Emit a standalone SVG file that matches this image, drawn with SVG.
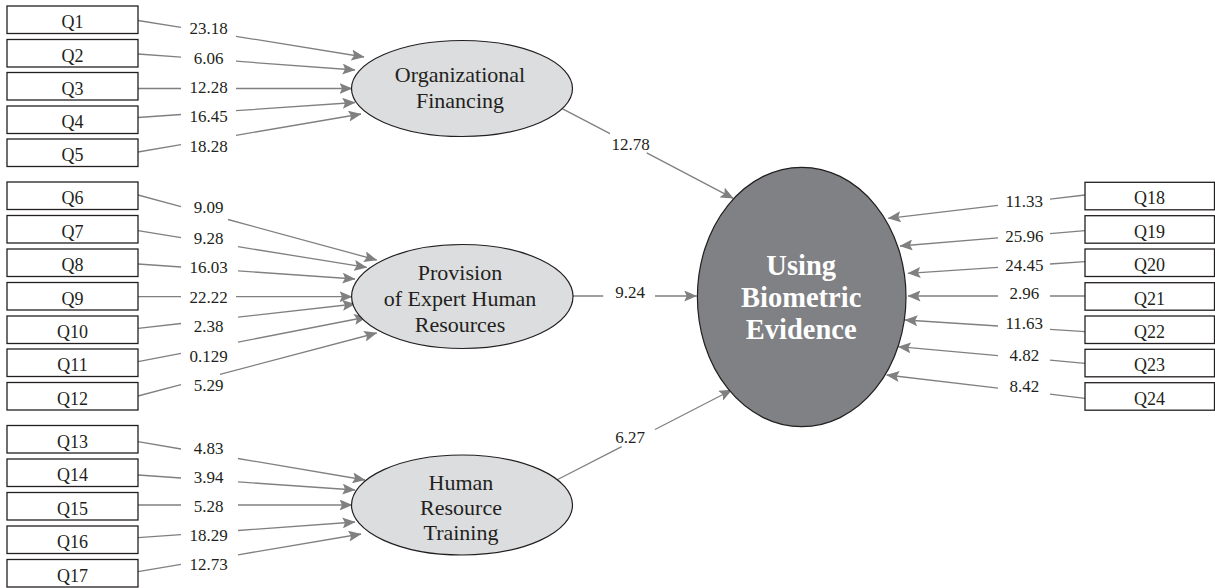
<svg xmlns="http://www.w3.org/2000/svg" width="1215" height="588" viewBox="0 0 1215 588">
<style>
.box{fill:#fff;stroke:#231f20;stroke-width:1.3}
.bt{font-family:"Liberation Serif",serif;font-size:18px;fill:#231f20;text-anchor:middle}
.lat{fill:#dcddde;stroke:#231f20;stroke-width:1.2}
.lt{font-family:"Liberation Serif",serif;font-size:22px;fill:#231f20;text-anchor:middle}
.big{fill:#808184;stroke:#231f20;stroke-width:1.2}
.bgt{font-family:"Liberation Serif",serif;font-size:28.5px;font-weight:bold;fill:#fff;text-anchor:middle}
.c{fill:none;stroke:#808080;stroke-width:1.3;marker-end:url(#ah)}
.el{font-family:"Liberation Serif",serif;font-size:17px;fill:#231f20;text-anchor:middle}
</style>
<defs>
<marker id="ah" viewBox="0 0 13 11" refX="12.5" refY="5.5" markerWidth="13" markerHeight="11" markerUnits="userSpaceOnUse" orient="auto">
<path d="M0,0 L13,5.5 L0,11 L2.5,5.5 z" fill="#808080"/>
</marker>
</defs>
<rect width="1215" height="588" fill="#fff"/>

<g id="connectors">
<!-- group 1 -->
<path class="c" d="M138,20.5 L181,27.4 M236,36.3 L364,57"/>
<path class="c" d="M138,54 L181,57.2 M236,61.2 L355,70"/>
<path class="c" d="M138,88.5 L181,88.5 M236,88.5 L352,88.5"/>
<path class="c" d="M138,117.5 L181,114.5 M236,110.7 L355,102.5"/>
<path class="c" d="M138,152 L181,144.7 M236,135.3 L361,114"/>
<!-- group 2 -->
<path class="c" d="M138,195 L181,206.7 M228,219.5 L376.7,260"/>
<path class="c" d="M138,230.7 L181,237.6 M238,246.7 L366.7,267.3"/>
<path class="c" d="M138,264 L181,267 M238,270.9 L355,279"/>
<path class="c" d="M138,296.7 L181,296.7 M236,296.7 L352,296.7"/>
<path class="c" d="M138,328.3 L181,323.5 M238,317.1 L355,304"/>
<path class="c" d="M138,361.7 L181,353.3 M238,342.1 L366.7,317"/>
<path class="c" d="M138,396 L181,384.7 M220,374.4 L376.7,333"/>
<!-- group 3 -->
<path class="c" d="M138,441.7 L181,449 M238,458.5 L365,480"/>
<path class="c" d="M138,475 L181,478 M238,481.9 L355,490"/>
<path class="c" d="M138,505 L181,505 M238,505 L352,505"/>
<path class="c" d="M138,537.7 L181,534.6 M238,530.5 L355,522"/>
<path class="c" d="M138,571.7 L181,564.4 M238,554.8 L361,534"/>
<!-- right -->
<path class="c" d="M1085,195 L1050,199.1 M998,205.3 L888.3,218.3"/>
<path class="c" d="M1085,230.7 L1050,233.6 M998,237.9 L900,246"/>
<path class="c" d="M1085,261.7 L1050,264 M998,267.4 L908,273.3"/>
<path class="c" d="M1085,296 L1050,296 M998,296 L908,296"/>
<path class="c" d="M1085,331.7 L1050,329.4 M998,326 L905,320"/>
<path class="c" d="M1085,363.3 L1050,360.2 M998,355.6 L898.3,346.7"/>
<path class="c" d="M1085,398.3 L1050,394.2 M998,388.1 L886.7,375"/>
<!-- structural -->
<path class="c" d="M561.7,108.3 L610,133.6 M646.7,152.9 L733.3,198.3"/>
<path class="c" d="M573,296 L603.3,296 M655,296 L696.7,296"/>
<path class="c" d="M556.7,480 L621.7,446.6 M655,429.5 L731.7,390"/>
</g>

<g id="edge-labels">
<text class="el" x="208.5" y="34.3">23.18</text>
<text class="el" x="208.5" y="64.3">6.06</text>
<text class="el" x="208.5" y="93.3">12.28</text>
<text class="el" x="208.5" y="122">16.45</text>
<text class="el" x="208.5" y="151.7">18.28</text>
<text class="el" x="208.5" y="213.3">9.09</text>
<text class="el" x="208.5" y="244.3">9.28</text>
<text class="el" x="208.5" y="273.3">16.03</text>
<text class="el" x="208.5" y="302.7">22.22</text>
<text class="el" x="208.5" y="332.3">2.38</text>
<text class="el" x="208.5" y="361.7">0.129</text>
<text class="el" x="208.5" y="390.7">5.29</text>
<text class="el" x="208.5" y="454.3">4.83</text>
<text class="el" x="208.5" y="483.3">3.94</text>
<text class="el" x="208.5" y="512.3">5.28</text>
<text class="el" x="208.5" y="541">18.29</text>
<text class="el" x="208.5" y="570">12.73</text>
<text class="el" x="1024.3" y="207.3">11.33</text>
<text class="el" x="1024.3" y="241.7">25.96</text>
<text class="el" x="1024.3" y="270.7">24.45</text>
<text class="el" x="1024.3" y="299.3">2.96</text>
<text class="el" x="1024.3" y="329">11.63</text>
<text class="el" x="1024.3" y="360.7">4.82</text>
<text class="el" x="1024.3" y="391.7">8.42</text>
<text class="el" x="630.5" y="150">12.78</text>
<text class="el" x="630" y="298.3">9.24</text>
<text class="el" x="630" y="443.3">6.27</text>
</g>

<g id="Q1"><rect class="box" x="7" y="6" width="131" height="27.5"/><text class="bt" x="72.5" y="28">Q1</text></g>
<g id="Q2"><rect class="box" x="7" y="39.5" width="131" height="27.5"/><text class="bt" x="72.5" y="61.5">Q2</text></g>
<g id="Q3"><rect class="box" x="7" y="72.5" width="131" height="27.5"/><text class="bt" x="72.5" y="94.5">Q3</text></g>
<g id="Q4"><rect class="box" x="7" y="106" width="131" height="27.5"/><text class="bt" x="72.5" y="128">Q4</text></g>
<g id="Q5"><rect class="box" x="7" y="139" width="131" height="27.5"/><text class="bt" x="72.5" y="161">Q5</text></g>
<g id="Q6"><rect class="box" x="7" y="182" width="131" height="27.5"/><text class="bt" x="72.5" y="204">Q6</text></g>
<g id="Q7"><rect class="box" x="7" y="215.5" width="131" height="27.5"/><text class="bt" x="72.5" y="237.5">Q7</text></g>
<g id="Q8"><rect class="box" x="7" y="249" width="131" height="27.5"/><text class="bt" x="72.5" y="271">Q8</text></g>
<g id="Q9"><rect class="box" x="7" y="282.5" width="131" height="27.5"/><text class="bt" x="72.5" y="304.5">Q9</text></g>
<g id="Q10"><rect class="box" x="7" y="316" width="131" height="27.5"/><text class="bt" x="72.5" y="338">Q10</text></g>
<g id="Q11"><rect class="box" x="7" y="349" width="131" height="27.5"/><text class="bt" x="72.5" y="371">Q11</text></g>
<g id="Q12"><rect class="box" x="7" y="382.5" width="131" height="27.5"/><text class="bt" x="72.5" y="404.5">Q12</text></g>
<g id="Q13"><rect class="box" x="7" y="425.5" width="131" height="27.5"/><text class="bt" x="72.5" y="447.5">Q13</text></g>
<g id="Q14"><rect class="box" x="7" y="459" width="131" height="27.5"/><text class="bt" x="72.5" y="481">Q14</text></g>
<g id="Q15"><rect class="box" x="7" y="492.5" width="131" height="27.5"/><text class="bt" x="72.5" y="514.5">Q15</text></g>
<g id="Q16"><rect class="box" x="7" y="526" width="131" height="27.5"/><text class="bt" x="72.5" y="548">Q16</text></g>
<g id="Q17"><rect class="box" x="7" y="559.5" width="131" height="27.5"/><text class="bt" x="72.5" y="581.5">Q17</text></g>

<g id="Q18"><rect class="box" x="1085" y="182.3" width="129.5" height="27.5"/><text class="bt" x="1149.5" y="204">Q18</text></g>
<g id="Q19"><rect class="box" x="1085" y="215.7" width="129.5" height="27.5"/><text class="bt" x="1149.5" y="237.5">Q19</text></g>
<g id="Q20"><rect class="box" x="1085" y="249" width="129.5" height="27.5"/><text class="bt" x="1149.5" y="271">Q20</text></g>
<g id="Q21"><rect class="box" x="1085" y="282.7" width="129.5" height="27.5"/><text class="bt" x="1149.5" y="304.5">Q21</text></g>
<g id="Q22"><rect class="box" x="1085" y="316" width="129.5" height="27.5"/><text class="bt" x="1149.5" y="338">Q22</text></g>
<g id="Q23"><rect class="box" x="1085" y="349.3" width="129.5" height="27.5"/><text class="bt" x="1149.5" y="371">Q23</text></g>
<g id="Q24"><rect class="box" x="1085" y="382.7" width="129.5" height="27.5"/><text class="bt" x="1149.5" y="404.5">Q24</text></g>

<g id="organizational-financing">
<ellipse class="lat" cx="462" cy="88.5" rx="110.5" ry="48"/>
<text class="lt" x="460" y="81.5">Organizational</text>
<text class="lt" x="460" y="108">Financing</text>
</g>
<g id="expert-human-resources">
<ellipse class="lat" cx="462.3" cy="296.5" rx="110.7" ry="52"/>
<text class="lt" x="460" y="280">Provision</text>
<text class="lt" x="460" y="306">of Expert Human</text>
<text class="lt" x="460" y="331.5">Resources</text>
</g>
<g id="human-resource-training">
<ellipse class="lat" cx="462" cy="505" rx="110.5" ry="50"/>
<text class="lt" x="461" y="490">Human</text>
<text class="lt" x="461" y="515">Resource</text>
<text class="lt" x="461" y="540">Training</text>
</g>
<g id="using-biometric-evidence">
<ellipse class="big" cx="801.7" cy="297" rx="104.3" ry="129.7"/>
<text class="bgt" x="801.2" y="275">Using</text>
<text class="bgt" x="801.2" y="307">Biometric</text>
<text class="bgt" x="801.2" y="338.5">Evidence</text>
</g>
</svg>
